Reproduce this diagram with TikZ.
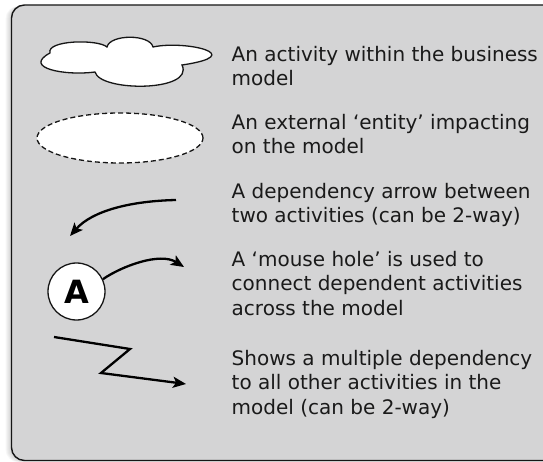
\documentclass[tikz,border=0pt]{standalone}
\usepackage{fontspec}
\setmainfont{DejaVu Sans}
\usetikzlibrary{arrows.meta}
\definecolor{panelgray}{RGB}{212,212,213}
\definecolor{inkline}{RGB}{22,22,22}
\definecolor{legendink}{RGB}{26,26,26}
\begin{document}
\begin{tikzpicture}[x=1pt,y=-1pt,
  legendtext/.style={anchor=base west, align=left, inner sep=0pt,
    font=\fontsize{20}{24.5}\selectfont, text=legendink},
  shapeline/.style={draw=inkline, line width=1.3pt, fill=white},
  deparrow/.style={draw=black, line width=2.3pt, line join=miter,
    -{Stealth[length=13pt,width=11pt,inset=3pt]}},
]
\useasboundingbox (0,0) rectangle (543,462);
\clip (0,0) rectangle (543,462);

% faint shadow along the left of the panel
\foreach \s in {1,...,6}
  \fill[black, opacity=0.03, rounded corners=13pt] ({11.5-\s},6) rectangle (600,{460.5+0.3*\s});

% legend panel
\filldraw[fill=panelgray, draw=inkline, line width=1.4pt, rounded corners=13pt]
  (11.5,5) rectangle (600,460.5);

% activity (cloud)
\path[shapeline]
  (50,53) .. controls (46,40) and (98,39) .. (107,47)
          .. controls (110,34) and (150,34) .. (153,47)
          .. controls (185,40) and (250,55) .. (182,65)
          .. controls (195,92) and (100,92) .. (95,72)
          .. controls (65,76) and (22,68) .. (50,53) -- cycle;

% external entity (dashed ellipse)
\draw[shapeline, dash pattern=on 5pt off 3pt]
  (120,138) ellipse [x radius=83pt, y radius=25pt];

% dependency arrow
\coordinate (d1) at (176,200);
\coordinate (d2) at (70,236);
\draw[deparrow] (d1) .. controls (130,201) and (92,211) .. (d2);

% mouse hole
\node[circle, draw=inkline, line width=1.3pt, fill=white, minimum size=57pt,
  inner sep=0pt, font=\fontsize{32}{32}\selectfont\bfseries] (A) at (76.5,291.5) {A};
\coordinate (m2) at (184,267);
\draw[deparrow] (A.25) .. controls (122,266) and (160,252) .. (m2);

% multiple dependency (zigzag)
\coordinate (z1) at (54,337);
\coordinate (z2) at (130,349);
\coordinate (z3) at (101,373);
\coordinate (z4) at (186,384);
\draw[deparrow] (z1) -- (z2) -- (z3) -- (z4);

% legend texts (each placed by the baseline of its last line)
\node[legendtext] (t1) at (231.5,86) {An activity within the business\\model};
\node[legendtext] (t2) at (231.5,154) {An external ‘entity’ impacting\\on the model};
\node[legendtext] (t3) at (231.5,222.7) {A dependency arrow between\\two activities (can be 2-way)};
\node[legendtext] (t4) at (231.5,315) {A ‘mouse hole’ is used to\\connect dependent activities\\across the model};
\node[legendtext] (t5) at (231.5,414) {Shows a multiple dependency\\to all other activities in the\\model (can be 2-way)};
\end{tikzpicture}
\end{document}
